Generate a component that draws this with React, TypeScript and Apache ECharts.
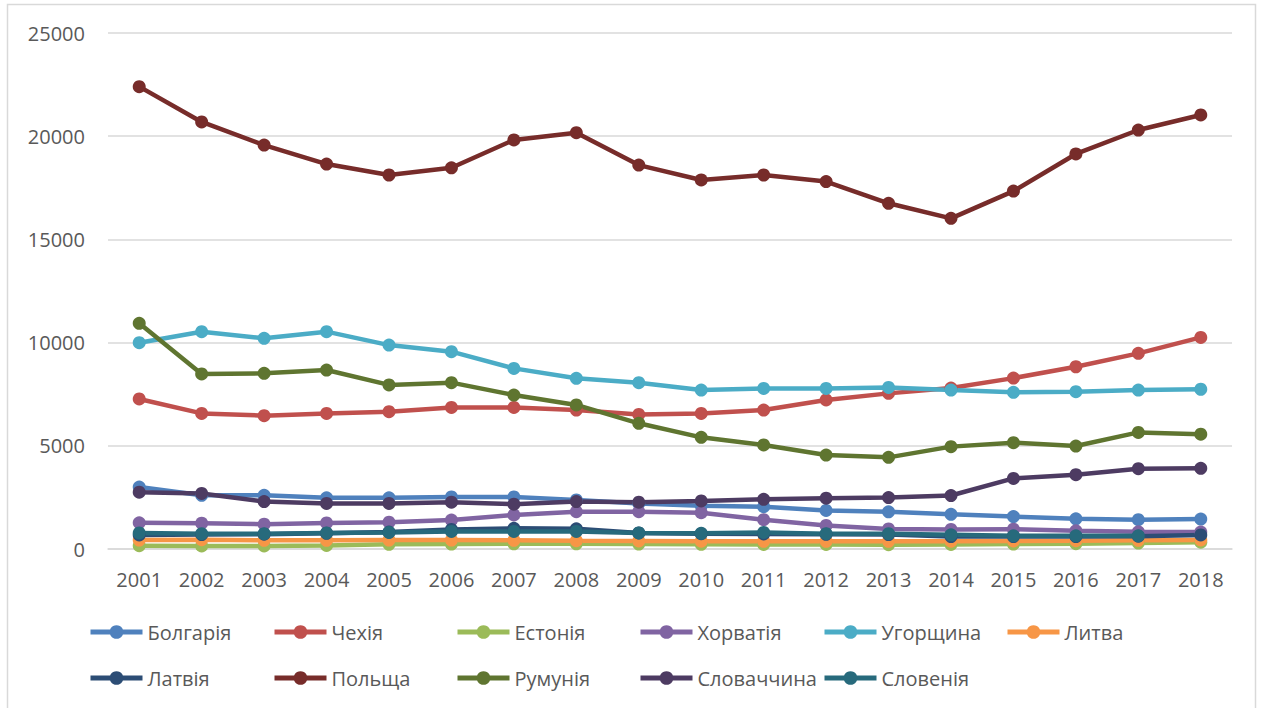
import React, { useEffect, useRef } from "react";
import * as echarts from "echarts";

const years = ["2001","2002","2003","2004","2005","2006","2007","2008","2009","2010","2011","2012","2013","2014","2015","2016","2017","2018"];

const names = ["Болгарія","Чехія","Естонія","Хорватія","Угорщина","Литва","Латвія","Польща","Румунія","Словаччина","Словенія"];
const colors = ["#4F81BD","#C0504D","#9BBB59","#8064A2","#4BACC6","#F79646","#2C4D75","#772C2A","#5F7530","#4D3B62","#276A7C"];

const bulgaria = [3000, 2600, 2600, 2480, 2480, 2520, 2520, 2380, 2200, 2100, 2050, 1870, 1800, 1680, 1570, 1460, 1420, 1450];
const czechia = [7270, 6570, 6460, 6570, 6650, 6860, 6860, 6730, 6520, 6570, 6730, 7220, 7540, 7800, 8280, 8830, 9480, 10250];
const estonia = [160, 150, 150, 170, 230, 240, 250, 250, 240, 230, 220, 220, 210, 220, 240, 260, 290, 330];
const croatia = [1270, 1250, 1200, 1260, 1300, 1400, 1650, 1810, 1810, 1760, 1420, 1140, 970, 950, 960, 880, 830, 820];
const hungary = [9995, 10530, 10210, 10530, 9880, 9560, 8750, 8270, 8060, 7700, 7780, 7780, 7830, 7700, 7590, 7620, 7700, 7740];
const lithuania = [430, 450, 420, 420, 430, 430, 420, 400, 390, 380, 370, 370, 370, 380, 390, 400, 420, 440];
const latvia = [680, 700, 720, 760, 820, 950, 1000, 980, 780, 740, 730, 710, 700, 600, 600, 600, 620, 680];
const poland = [22400, 20690, 19570, 18650, 18120, 18470, 19820, 20170, 18600, 17880, 18120, 17800, 16750, 16020, 17340, 19140, 20300, 21030];
const romania = [10935, 8480, 8510, 8670, 7950, 8060, 7460, 6980, 6090, 5410, 5040, 4550, 4440, 4960, 5150, 4990, 5650, 5560];
const slovakia = [2750, 2690, 2300, 2210, 2210, 2270, 2170, 2300, 2270, 2330, 2410, 2460, 2490, 2590, 3420, 3600, 3890, 3910];
const slovenia = [780, 740, 740, 780, 800, 850, 850, 850, 780, 760, 800, 740, 740, 690, 640, 640, 640, null];

const seriesData = [bulgaria, czechia, estonia, croatia, hungary, lithuania, latvia, poland, romania, slovakia, slovenia];

const FONT = "'Open Sans', 'Noto Sans', sans-serif";

export default function App() {
  const ref = useRef<HTMLDivElement>(null);
  useEffect(() => {
    if (!ref.current) return;
    const chart = echarts.init(ref.current, null, { renderer: "svg" });
    const legendCols = [88, 272, 455, 638, 822, 1005];
    const legends = names.map((n, i) => ({
      data: [n],
      left: legendCols[i % 6],
      top: i < 6 ? 622 : 668,
      padding: 0,
      itemWidth: 52,
      itemHeight: 17,
      itemGap: 4,
      selectedMode: false,
      lineStyle: { width: 5 },
      textStyle: { color: "#595959", fontSize: 20, fontFamily: FONT },
    }));
    chart.setOption({
      animation: false,
      backgroundColor: "#ffffff",
      textStyle: { fontFamily: FONT },
      graphic: [
        {
          type: "rect",
          shape: { x: 7.5, y: 4.5, width: 1248, height: 720 },
          style: { fill: "none", stroke: "#d9d9d9", lineWidth: 1.5 },
          silent: true,
        },
      ],
      grid: { left: 108, right: 30, top: 33, bottom: 159, containLabel: false },
      legend: legends,
      xAxis: {
        type: "category",
        data: years,
        boundaryGap: true,
        axisLine: { lineStyle: { color: "#d9d9d9", width: 1.5 } },
        axisTick: { show: false },
        axisLabel: { color: "#595959", fontSize: 20, margin: 20, fontFamily: FONT },
      },
      yAxis: {
        type: "value",
        min: 0,
        max: 25000,
        interval: 5000,
        axisLine: { show: false },
        axisTick: { show: false },
        splitLine: { lineStyle: { color: "#d9d9d9", width: 1.5 } },
        axisLabel: {
          color: "#595959",
          fontSize: 20,
          margin: 23,
          fontFamily: FONT,
          formatter: (v: number) => String(v),
        },
      },
      series: names.map((n, i) => ({
        name: n,
        type: "line",
        data: seriesData[i],
        symbol: "circle",
        symbolSize: 13,
        connectNulls: false,
        lineStyle: { color: colors[i], width: 4.5 },
        itemStyle: { color: colors[i] },
      })),
    });
    return () => chart.dispose();
  }, []);
  return (
    <div style={{ position: "fixed", left: 0, top: 0, width: 1262, height: 708, background: "#fff" }}>
      <div ref={ref} style={{ width: 1262, height: 708 }} />
    </div>
  );
}
